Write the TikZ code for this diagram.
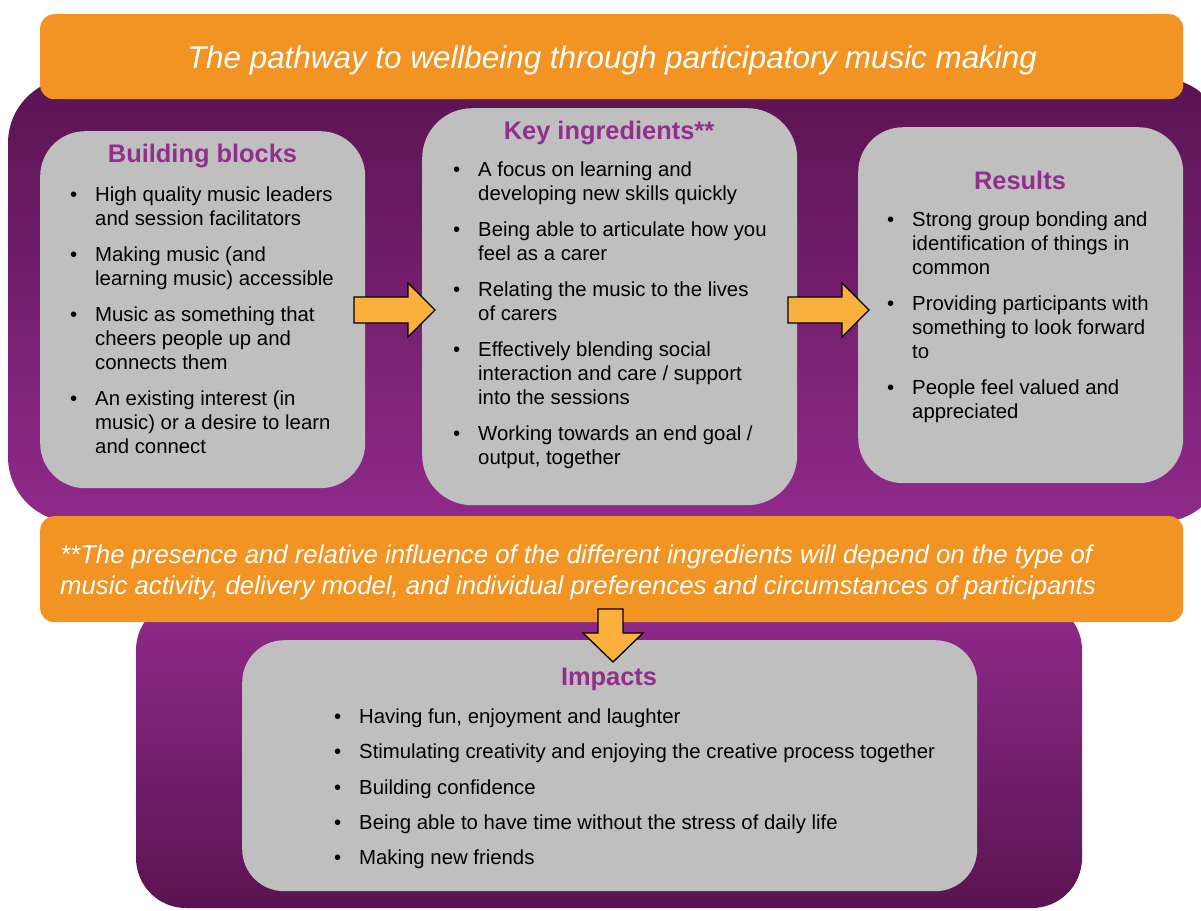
\documentclass[tikz,border=0pt]{standalone}
\usepackage{fontspec}
\setmainfont{Liberation Sans}
\definecolor{banner}{RGB}{242,148,36}
\definecolor{arrowfill}{RGB}{250,176,60}
\definecolor{panel}{RGB}{191,191,191}
\definecolor{heading}{RGB}{146,47,140}
\definecolor{plumdark}{RGB}{90,20,82}
\definecolor{plumlight}{RGB}{144,42,139}
\newcommand{\bul}{\llap{\textbullet\hspace{18pt}}}
\newcommand{\lines}[1]{\parbox[t]{330pt}{\raggedright #1}}
\begin{document}
\begin{tikzpicture}[x=1pt,y=-1pt,
  panelbox/.style={fill=panel,draw=none,rounded corners=45pt,anchor=north west,inner sep=0pt},
  bannerbox/.style={fill=banner,draw=none,rounded corners=14pt,anchor=north west,inner sep=0pt},
  title/.style={font=\fontsize{25.4}{30}\selectfont\bfseries,text=heading,anchor=base,inner sep=0pt},
  itm/.style={font=\fontsize{20.35}{24}\selectfont,text=black,anchor=base west,inner sep=0pt},
  blockarrow/.style={fill=arrowfill,draw=black,line width=1.3pt,line join=miter}
]
\useasboundingbox (0,0) rectangle (1201,910);
\begin{scope}
\clip (0,0) rectangle (1201,910);
% upper purple backdrop
\shade[top color=plumdark,bottom color=plumlight,rounded corners=65pt] (8,78) rectangle (1225,522);
\end{scope}

% heading banner
\node[bannerbox,minimum width=1143pt,minimum height=85pt] (head) at (40,14) {};
\node[font=\fontsize{31.4}{36}\selectfont\itshape,text=white,anchor=base,inner sep=0pt] (headtext) at (612,68.5)
  {The pathway to wellbeing through participatory music making};

% three panels
\node[panelbox,minimum width=325pt,minimum height=357pt] (blocks) at (40,131) {};
\node[panelbox,minimum width=375pt,minimum height=397pt,rounded corners=50pt] (ingr) at (422,108) {};
\node[panelbox,minimum width=325pt,minimum height=356pt] (res) at (858,127) {};

% lower purple backdrop
\shade[top color=plumlight,bottom color=plumdark,rounded corners=50pt] (136,600) rectangle (1082,908);

% note banner
\node[bannerbox,minimum width=1143pt,minimum height=106pt] (note) at (40,516) {};
\node[font=\fontsize{25.75}{31}\selectfont\itshape,text=white,anchor=base west,inner sep=0pt] (notetext) at (60,563)
  {\parbox[t]{1130pt}{\raggedright **The presence and relative influence of the different ingredients will depend on the type of\\
  music activity, delivery model, and individual preferences and circumstances of participants}};

% impacts panel
\node[panelbox,minimum width=735pt,minimum height=251pt,rounded corners=42pt] (imp) at (242,640) {};

% panel titles
\node[title] (blockstitle) at (202.5,162.5) {Building blocks};
\node[title] (ingrtitle) at (609,139.3) {Key ingredients**};
\node[title] (restitle) at (1020,189) {Results};
\node[title] (imptitle) at (609,685) {Impacts};

% building blocks
\node[itm] (b1) at (95,201.5) {\bul\lines{High quality music leaders\\and session facilitators}};
\node[itm] (b2) at (95,261.5) {\bul\lines{Making music (and\\learning music) accessible}};
\node[itm] (b3) at (95,321.5) {\bul\lines{Music as something that\\cheers people up and\\connects them}};
\node[itm] (b4) at (95,405.5) {\bul\lines{An existing interest (in\\music) or a desire to learn\\and connect}};

% key ingredients
\node[itm] (k1) at (478,176.7) {\bul\lines{A focus on learning and\\developing new skills quickly}};
\node[itm] (k2) at (478,236.7) {\bul\lines{Being able to articulate how you\\feel as a carer}};
\node[itm] (k3) at (478,296.7) {\bul\lines{Relating the music to the lives\\of carers}};
\node[itm] (k4) at (478,356.7) {\bul\lines{Effectively blending social\\interaction and care / support\\into the sessions}};
\node[itm] (k5) at (478,440.7) {\bul\lines{Working towards an end goal /\\output, together}};

% results
\node[itm] (r1) at (912,226) {\bul\lines{Strong group bonding and\\identification of things in\\common}};
\node[itm] (r2) at (912,310) {\bul\lines{Providing participants with\\something to look forward\\to}};
\node[itm] (r3) at (912,394) {\bul\lines{People feel valued and\\appreciated}};

% impacts
\node[itm] (i1) at (359,723.5) {\bul Having fun, enjoyment and laughter};
\node[itm] (i2) at (359,758.8) {\bul Stimulating creativity and enjoying the creative process together};
\node[itm] (i3) at (359,794.1) {\bul Building confidence};
\node[itm] (i4) at (359,829.4) {\bul Being able to have time without the stress of daily life};
\node[itm] (i5) at (359,864.7) {\bul Making new friends};

% block arrows
\draw[blockarrow] (354,297) -- (408,297) -- (408,283) -- (435,310) -- (408,337) -- (408,323) -- (354,323) -- cycle;
\draw[blockarrow] (788,297) -- (842,297) -- (842,283) -- (869,310) -- (842,337) -- (842,323) -- (788,323) -- cycle;
\draw[blockarrow] (598,609) -- (623,609) -- (623,633) -- (643,633) -- (613,662) -- (583,633) -- (598,633) -- cycle;
\end{tikzpicture}
\end{document}
